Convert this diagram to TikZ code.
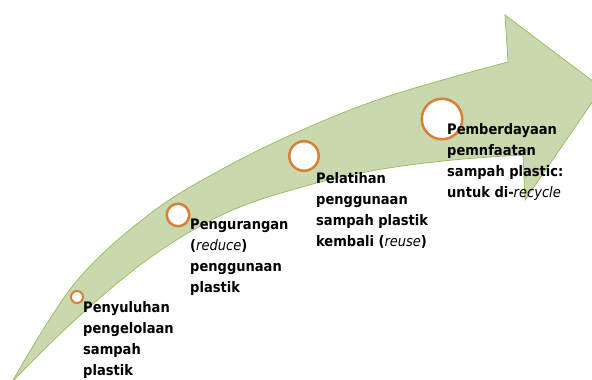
\documentclass[tikz,border=0pt]{standalone}
\usepackage{fontspec}
\setmainfont{DejaVu Sans Condensed}
\definecolor{arrowfill}{RGB}{201,217,173}
\definecolor{arrowline}{RGB}{152,185,92}
\definecolor{ringcol}{RGB}{217,128,55}
\begin{document}
\begin{tikzpicture}[x=1pt,y=-1pt,
  ring/.style={circle,draw=ringcol,fill=white,line width=2.5pt,inner sep=0pt},
  steptext/.style={anchor=north west,inner sep=0pt,align=left,
    font=\fontsize{14.5}{21}\selectfont\bfseries},
  bigarrow/.style={fill=arrowfill,draw=arrowline,line width=0.7pt}]
\useasboundingbox (0,0) rectangle (592,380);
\clip (0,0) rectangle (592,380);
% arrow body
\path[bigarrow] plot[smooth,tension=0.6] coordinates {(12,382) (75,283) (151,213) (226,167) (302,130) (377,100) (453,77) (508,62)}
  -- (505,15) -- (602,88) -- (525,200) -- (523,155)
  -- plot[smooth,tension=0.6] coordinates {(523,155) (453,160) (377,170) (302,187) (226,213) (151,257) (75,320) (12,382)} -- cycle;
% rings
\node[ring,line width=2pt,minimum size=12pt] (c1) at (77,297) {};
\node[ring,minimum size=22.5pt] (c2) at (178,215) {};
\node[ring,minimum size=29.5pt] (c3) at (304,156) {};
\node[ring,minimum size=40.5pt] (c4) at (442,119) {};
% texts
\node[steptext] (t1) at (83,301) {Penyuluhan\\pengelolaan\\sampah\\plastik};
\node[steptext] (t2) at (190,219) {Pengurangan\\({\mdseries\itshape reduce})\\penggunaan\\plastik};
\node[steptext] (t3) at (316,172) {Pelatihan\\penggunaan\\sampah plastik\\kembali ({\mdseries\itshape reuse})};
\node[steptext] (t4) at (447,123) {Pemberdayaan\\pemnfaatan\\sampah plastic:\\untuk di-{\mdseries\itshape recycle}};
\end{tikzpicture}
\end{document}
